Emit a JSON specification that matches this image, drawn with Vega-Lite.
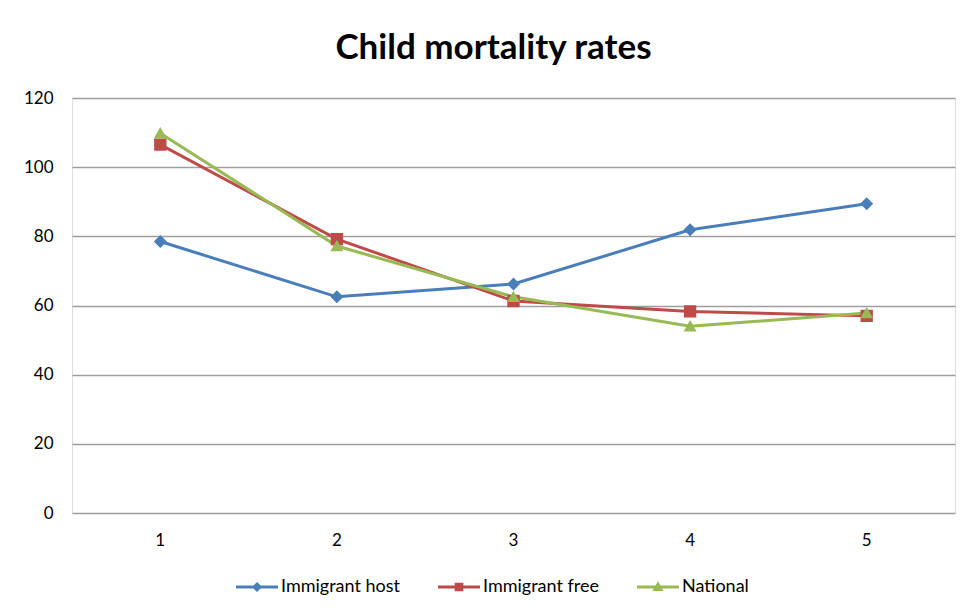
{
  "$schema": "https://vega.github.io/schema/vega-lite/v6.json",
  "width": 883,
  "height": 415,
  "autosize": {"type": "none"},
  "padding": {"left": 72, "top": 98, "right": 10, "bottom": 97},
  "background": "white",
  "title": {
    "text": "Child mortality rates",
    "font": "Lato",
    "fontSize": 35,
    "fontWeight": "bold",
    "color": "#000000",
    "anchor": "middle",
    "frame": "group",
    "dx": -20,
    "offset": 23
  },
  "data": {
    "values": [
      {"x": "1", "series": "Immigrant host", "value": 78.5},
      {"x": "2", "series": "Immigrant host", "value": 62.5},
      {"x": "3", "series": "Immigrant host", "value": 66.2},
      {"x": "4", "series": "Immigrant host", "value": 81.9},
      {"x": "5", "series": "Immigrant host", "value": 89.4},
      {"x": "1", "series": "Immigrant free", "value": 106.5},
      {"x": "2", "series": "Immigrant free", "value": 79.2},
      {"x": "3", "series": "Immigrant free", "value": 61.3},
      {"x": "4", "series": "Immigrant free", "value": 58.3},
      {"x": "5", "series": "Immigrant free", "value": 57.0},
      {"x": "1", "series": "National", "value": 109.8},
      {"x": "2", "series": "National", "value": 77.2},
      {"x": "3", "series": "National", "value": 62.5},
      {"x": "4", "series": "National", "value": 54.0},
      {"x": "5", "series": "National", "value": 57.8}
    ]
  },
  "encoding": {
    "x": {
      "field": "x",
      "type": "ordinal",
      "scale": {"type": "band", "paddingInner": 0, "paddingOuter": 0},
      "axis": {
        "title": null,
        "labelAngle": 0,
        "domain": false,
        "ticks": false,
        "grid": false,
        "labelPadding": 19,
        "labelFont": "Lato",
        "labelFontSize": 17,
        "labelColor": "#000000"
      }
    },
    "y": {
      "field": "value",
      "type": "quantitative",
      "scale": {"domain": [0, 120], "nice": false, "zero": true},
      "axis": {
        "title": null,
        "values": [0, 20, 40, 60, 80, 100, 120],
        "domain": false,
        "ticks": false,
        "labelPadding": 19,
        "labelFont": "Lato",
        "labelFontSize": 17,
        "labelColor": "#000000",
        "grid": true,
        "gridColor": "#9e9e9e",
        "gridWidth": 1.3
      }
    },
    "color": {
      "field": "series",
      "type": "nominal",
      "sort": ["Immigrant host", "Immigrant free", "National"],
      "scale": {
        "domain": ["Immigrant host", "Immigrant free", "National"],
        "range": ["#4A7EBB", "#BE4B48", "#98B954"]
      },
      "legend": {
        "title": null,
        "orient": "none",
        "direction": "horizontal",
        "legendX": 176,
        "legendY": 480,
        "labelFont": "Lato",
        "labelFontSize": 18,
        "labelColor": "#000000",
        "symbolSize": 36,
        "symbolStrokeWidth": 3,
        "labelOffset": 15,
        "columnPadding": 31,
        "encode": {
          "symbols": {
            "update": {
              "stroke": {"scale": "color", "field": "value"},
              "strokeWidth": {"value": 3},
              "fill": {"scale": "color", "field": "value"}
            }
          }
        }
      }
    }
  },
  "layer": [
    {
      "mark": {"type": "line", "strokeWidth": 3},
      "encoding": {}
    },
    {
      "mark": {"type": "point", "filled": true, "opacity": 1, "size": 169},
      "encoding": {
        "shape": {
          "field": "series",
          "type": "nominal",
          "sort": ["Immigrant host", "Immigrant free", "National"],
          "scale": {
            "domain": ["Immigrant host", "Immigrant free", "National"],
            "range": [
              "M-7,0H7M0,-1L1,0L0,1L-1,0Z",
              "M-7,0H7M-0.95,-0.95H0.95V0.95H-0.95Z",
              "M-7,0H7M0,-0.95L1,0.8H-1Z"
            ]
          },
          "legend": {
            "title": null,
            "orient": "none",
            "direction": "horizontal",
            "legendX": 176,
            "legendY": 480,
            "labelFont": "Lato",
            "labelFontSize": 18,
            "labelColor": "#000000",
            "symbolSize": 36,
            "symbolStrokeWidth": 3,
            "labelOffset": 15,
            "columnPadding": 31,
            "encode": {
              "symbols": {
                "update": {
                  "stroke": {"scale": "color", "field": "value"},
                  "strokeWidth": {"value": 3},
                  "fill": {"scale": "color", "field": "value"}
                }
              }
            }
          }
        }
      }
    }
  ]
}
